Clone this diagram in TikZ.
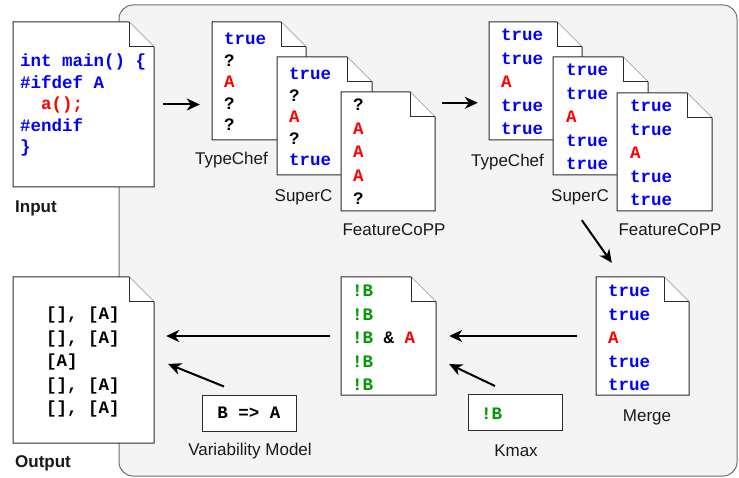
\documentclass[tikz,border=0pt]{standalone}
\usepackage{fontspec}
\setmainfont{Liberation Sans}
\setmonofont{Liberation Mono}
\usetikzlibrary{arrows.meta,fit}

\definecolor{cblue}{HTML}{0000FF}
\definecolor{cred}{HTML}{FF0000}
\definecolor{cgreen}{HTML}{009900}
\definecolor{panelfill}{HTML}{F4F4F4}
\definecolor{panelline}{HTML}{6E6E6E}
\definecolor{docline}{HTML}{2B2B2B}

% coloured code fragments
\newcommand\cT{\textcolor{cblue}{true}}
\newcommand\cR[1]{\textcolor{cred}{#1}}
\newcommand\cG[1]{\textcolor{cgreen}{#1}}

% a sheet with a folded top-right corner; #1 name, #2 left, #3 top, #4 right, #5 bottom
\newcommand\paper[5]{%
  \filldraw[docpath] (#2,#3) -- ({#4-25},#3) -- (#4,{#3+25}) -- (#4,#5) -- (#2,#5) -- cycle;
  \draw[docpath] ({#4-25},#3) -- ({#4-25},{#3+25}) -- (#4,{#3+25});
  \node[fit={(#2,#3) (#4,#5)}, inner sep=0pt] (#1) {};
}

\tikzset{
  docpath/.style={draw=docline, fill=white, line width=1pt, line join=miter},
  panel/.style={draw=panelline, fill=panelfill, line width=1pt, rounded corners=14pt},
  codetight/.style={font=\ttfamily\bfseries\fontsize{17.5}{21.5}\selectfont, align=left, inner sep=0pt, anchor=west},
  codeloose/.style={font=\ttfamily\bfseries\fontsize{17.5}{23.5}\selectfont, align=left, inner sep=0pt, anchor=west},
  lab/.style={font=\fontsize{17}{20}\selectfont, inner sep=0pt, text=black!90},
  box/.style={draw=docline, fill=white, line width=1pt, minimum width=94pt, minimum height=36pt, inner sep=0pt,
              font=\ttfamily\bfseries\fontsize{17.5}{21}\selectfont},
  arr/.style={draw=black, line width=2pt, -{Stealth[length=13pt, width=12pt, inset=4pt]}},
}

\begin{document}
\begin{tikzpicture}[x=1pt, y=-1pt]
\useasboundingbox (0,0) rectangle (739,478);

% grey processing area
\node[panel, fit={(119,5) (737,476)}, inner sep=0pt] (panel) {};

% input program
\paper{input}{13}{22}{154}{187}
\node[codetight, text=cblue] (input-code) at (20,105)
  {int main() \{\\\#ifdef A\\\phantom{xx}\cR{a();}\\\#endif\\\}};
\node[lab, anchor=west] (l-in) at (15,208) {\bfseries Input};

% first round of presence conditions
\paper{tc1}{212}{22}{306}{140}
\node[codetight] (tc1-code) at (224,82) {\cT\\?\\\cR{A}\\?\\?};
\paper{sc1}{277}{57}{372}{175}
\node[codetight] (sc1-code) at (289,117) {\cT\\?\\\cR{A}\\?\\\cT};
\paper{fc1}{341}{92}{435}{211}
\node[codeloose] (fc1-code) at (353,152) {?\\\cR{A}\\\cR{A}\\\cR{A}\\?};

\node[lab] (l-tc1) at (231.5,160) {TypeChef};
\node[lab] (l-sc1) at (303.5,197) {SuperC};
\node[lab] (l-fc1) at (394,230) {FeatureCoPP};

% second round of presence conditions
\paper{tc2}{489}{22}{582}{140}
\node[codeloose] (tc2-code) at (501,82) {\cT\\\cT\\\cR{A}\\\cT\\\cT};
\paper{sc2}{553}{57}{648}{175}
\node[codeloose] (sc2-code) at (566,117) {\cT\\\cT\\\cR{A}\\\cT\\\cT};
\paper{fc2}{617}{93}{712}{211}
\node[codeloose] (fc2-code) at (630,153) {\cT\\\cT\\\cR{A}\\\cT\\\cT};

\node[lab] (l-tc2) at (507.5,162) {TypeChef};
\node[lab] (l-sc2) at (580,197) {SuperC};
\node[lab] (l-fc2) at (670,230) {FeatureCoPP};

% merged result
\paper{merge}{596}{277}{689}{395}
\node[codeloose] (merge-code) at (608,338) {\cT\\\cT\\\cR{A}\\\cT\\\cT};
\node[lab] (l-merge) at (647,417) {Merge};

% combined with Kmax
\paper{mid}{341}{277}{436}{395}
\node[codeloose] (mid-code) at (352,338)
  {\cG{!B}\\\cG{!B}\\\cG{!B} \& \cR{A}\\\cG{!B}\\\cG{!B}};

\node[box] (kmax) at (515.5,412.5) {};
\node[codeloose] (kmax-code) at (481,414) {\cG{!B}};
\node[lab] (l-kmax) at (516,451) {Kmax};

% output configurations
\paper{out}{13}{277}{154}{443}
\node[codeloose] (out-code) at (46,362)
  {[], [A]\\\relax[], [A]\\\relax[A]\\\relax[], [A]\\\relax[], [A]};
\node[lab, anchor=west] (l-out) at (15,463) {\bfseries Output};

\node[box] (vm) at (249,413) {B => A};
\node[lab] (l-vm) at (250,451) {Variability Model};

% connectors
\draw[arr, shorten <=9pt, shorten >=12pt] (input.east) -- (input.east -| tc1.west);
\coordinate (a2s) at ([xshift=7pt, yshift=-11pt]fc1.north east);
\draw[arr, shorten >=11pt] (a2s) -- (a2s -| tc2.west);
\draw[arr] ([xshift=-35pt, yshift=-9pt]fc2.south west) -- ([xshift=16pt, yshift=14pt]merge.north west);
\draw[arr, shorten <=19pt, shorten >=13pt] (merge.west) -- (mid.east);
\draw[arr] ([xshift=-20.5pt, yshift=8pt]kmax.north) -- ([xshift=13pt, yshift=31pt]mid.south east);
\draw[arr, shorten <=11pt, shorten >=12pt] (mid.west) -- (mid.west -| out.east);
\draw[arr] ([xshift=-25pt, yshift=8pt]vm.north) -- ([xshift=14pt, yshift=-4pt]out.east);
\end{tikzpicture}
\end{document}
